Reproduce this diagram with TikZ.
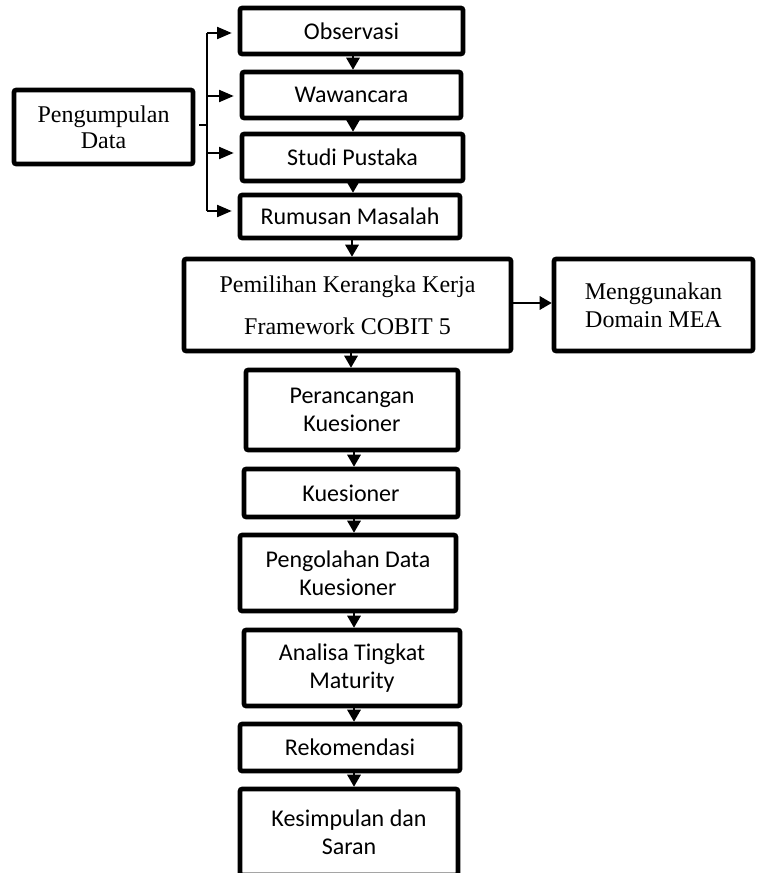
\documentclass[tikz,border=0pt]{standalone}
\usepackage{fontspec}
\setmainfont{Liberation Serif}
\newfontfamily\calfont{Carlito}
\usetikzlibrary{arrows.meta}
\begin{document}
\begin{tikzpicture}[x=0.75pt,y=-0.75pt,
  box/.style={draw, line width=3.4pt, rounded corners=1.5pt, align=center, inner sep=0pt,
    font=\calfont\fontsize{18}{21}\selectfont},
  sbox/.style={box, font=\fontsize{18}{21}\selectfont},
  flow/.style={line width=1.5pt, -{Triangle[length=9pt,width=10pt]}},
  brk/.style={line width=1.1pt},
  barr/.style={line width=1.5pt, -{Triangle[length=11pt,width=9pt]}, shorten >=4.5pt}]
\useasboundingbox[fill=white] (0,0) rectangle (762,873);

\node[box, minimum width=167.25pt, minimum height=34.5pt] (obs) at (351.5,31) {Observasi};
\node[box, minimum width=164.25pt, minimum height=34.5pt] (waw) at (351.5,95) {Wawancara};
\node[box, minimum width=165.75pt, minimum height=35.25pt] (stu) at (352.5,157.5) {Studi Pustaka};
\node[box, minimum width=165pt, minimum height=32.25pt] (rum) at (350,216.5) {Rumusan Masalah};
\node[sbox, minimum width=245.25pt, minimum height=69pt, font=\fontsize{18}{31.5}\selectfont] (pem) at (347.5,305) {Pemilihan Kerangka Kerja\\Framework COBIT 5};
\node[sbox, minimum width=149.25pt, minimum height=69pt] (men) at (653.5,305) {Menggunakan\\Domain MEA};
\node[box, minimum width=159pt, minimum height=60pt] (per) at (352,410) {Perancangan\\Kuesioner};
\node[box, minimum width=160.5pt, minimum height=36pt] (kue) at (351,493) {Kuesioner};
\node[box, minimum width=162pt, minimum height=57pt] (peng) at (348,573) {Pengolahan Data\\Kuesioner};
\node[box, minimum width=162pt, minimum height=57pt] (ana) at (352,668) {Analisa Tingkat\\Maturity};
\node[box, minimum width=165pt, minimum height=35.25pt] (rek) at (350,747.5) {Rekomendasi};
\node[box, minimum width=163.5pt, minimum height=64.5pt] (kes) at (349,832) {Kesimpulan dan\\Saran};
\node[sbox, minimum width=134.25pt, minimum height=55.5pt, font=\fontsize{18}{19.5}\selectfont] (pd) at (103.5,127) {Pengumpulan\\Data};

% vertical flow
\draw[flow] (obs.south -| 353,0) -- (waw.north -| 353,0);
\draw[flow] (waw.south -| 353,0) -- (stu.north -| 353,0);
\draw[flow] (stu.south -| 353,0) -- (rum.north -| 353,0);
\draw[flow] (rum.south -| 352,0) -- (pem.north -| 352,0);
\draw[flow] (pem.south -| 351,0) -- (per.north -| 351,0);
\draw[flow] (per.south -| 354,0) -- (kue.north -| 354,0);
\draw[flow] (kue.south -| 354,0) -- (peng.north -| 354,0);
\draw[flow] (peng.south -| 354,0) -- (ana.north -| 354,0);
\draw[flow] (ana.south -| 354,0) -- (rek.north -| 354,0);
\draw[flow] (rek.south -| 354,0) -- (kes.north -| 354,0);
\draw[flow] (pem.east |- 0,303) -- (men.west |- 0,303);

% bracket
\coordinate (a1) at (207,33);
\coordinate (a2) at (207,96);
\coordinate (a3) at (207,153);
\coordinate (a4) at (207,211);
\draw[brk] ([xshift=3pt]pd.east |- 0,125) -- (207,125);
\draw[brk] (a1) -- (a4);
\draw[barr] (a1) -- (a1 -| obs.west);
\draw[barr] (a2) -- (a2 -| waw.west);
\draw[barr] (a3) -- (a3 -| stu.west);
\draw[barr] (a4) -- (a4 -| rum.west);
\end{tikzpicture}
\end{document}
